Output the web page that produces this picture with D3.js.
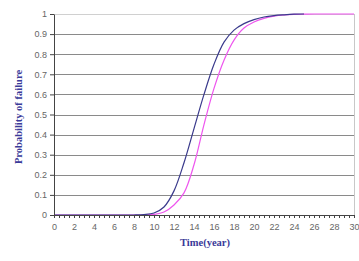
<!DOCTYPE html>
<html lang="en">
  <head>
    <meta charset="UTF-8" />
    <script src="https://d3js.org/d3.v7.min.js"></script>
    <style>
      body { margin: 0; background: #fff; }
      .tick text { font-family: "Liberation Sans", Arial, sans-serif; font-size: 9px; fill: #666; }
      .title { font-family: "Liberation Serif", "Times New Roman", serif; font-size: 10.5px; font-weight: bold; fill: #3a3a99; }
    </style>
  </head>
  <body>
    <svg id="chart" width="359" height="261"></svg>
    <script>
      // data
      const years = [0, 1, 2, 3, 4, 5, 6, 7, 8, 9, 10, 11, 12, 13, 14, 15, 16, 17, 18, 19, 20, 21, 22, 23, 24, 25, 26, 27, 28, 29, 30];
      const blueProb = [0, 0, 0, 0, 0, 0, 0, 0, 0, 0.002, 0.01, 0.04, 0.12, 0.26, 0.43, 0.6, 0.75, 0.86, 0.92, 0.952, 0.972, 0.985, 0.992, 0.996, 0.999, 1, null, null, null, null, null];
      const pinkProb = [0, 0, 0, 0, 0, 0, 0, 0, 0, 0, 0.003, 0.015, 0.05, 0.11, 0.25, 0.45, 0.63, 0.77, 0.87, 0.93, 0.96, 0.978, 0.989, 0.995, 0.998, 0.999, 1, 1, 1, 1, 1];
      const yTicks = [0, 0.1, 0.2, 0.3, 0.4, 0.5, 0.6, 0.7, 0.8, 0.9, 1];
      const xTicks = [0, 2, 4, 6, 8, 10, 12, 14, 16, 18, 20, 22, 24, 26, 28, 30];

      const svg = d3.select("#chart");
      const margin = { top: 14, right: 5, bottom: 46, left: 54 };
      const w = 359 - margin.left - margin.right;
      const h = 261 - margin.top - margin.bottom;
      const g = svg.append("g").attr("transform", `translate(${margin.left},${margin.top})`);

      const x = d3.scaleLinear().domain([0, 30]).range([0, w]);
      const y = d3.scaleLinear().domain([0, 1]).range([h, 0]);

      // gridlines
      g.selectAll("line.grid")
        .data(yTicks.slice(1))
        .join("line")
        .attr("class", "grid")
        .attr("x1", 0)
        .attr("x2", w)
        .attr("y1", (d) => Math.round(y(d)) + 0.5)
        .attr("y2", (d) => Math.round(y(d)) + 0.5)
        .attr("stroke", (d) => (d === 1 ? "#d0d0d0" : "#8a8a8a"))
        .attr("stroke-width", 1.2);

      // right border
      g.append("line")
        .attr("x1", w + 0.5).attr("x2", w + 0.5)
        .attr("y1", 0).attr("y2", h)
        .attr("stroke", "#c8c8c8");

      const line = d3.line()
        .defined((d) => d[1] !== null)
        .x((d) => x(d[0]))
        .y((d) => y(d[1]))
        .curve(d3.curveCatmullRom.alpha(0.5));

      g.append("path")
        .datum(years.map((t, i) => [t, pinkProb[i]]))
        .attr("fill", "none")
        .attr("stroke", "#ee55ee")
        .attr("stroke-width", 1.2)
        .attr("d", line);

      g.append("path")
        .datum(years.map((t, i) => [t, blueProb[i]]))
        .attr("fill", "none")
        .attr("stroke", "#3a3a8c")
        .attr("stroke-width", 1.2)
        .attr("d", line);

      // y axis
      const yAxis = g.append("g")
        .call(d3.axisLeft(y).tickValues(yTicks).tickFormat((d) => d).tickSize(4).tickSizeOuter(0));
      yAxis.select(".domain").attr("stroke", "#444");
      yAxis.selectAll(".tick line").attr("stroke", "#444");
      yAxis.selectAll(".tick text").attr("x", -7);

      // x axis with half-year minor ticks
      const xAxisG = g.append("g").attr("transform", `translate(0,${h})`);
      xAxisG.append("g")
        .call(d3.axisBottom(x).tickValues(d3.range(0, 30.01, 0.5)).tickFormat("").tickSize(3).tickSizeOuter(0))
        .call((a) => a.select(".domain").attr("stroke", "#444"))
        .call((a) => a.selectAll(".tick line").attr("stroke", "#444"));
      xAxisG.append("g")
        .call(d3.axisBottom(x).tickValues(xTicks).tickSize(0).tickPadding(9))
        .call((a) => a.select(".domain").remove());

      // titles
      svg.append("text")
        .attr("class", "title")
        .attr("text-anchor", "middle")
        .attr("transform", "translate(22,117) rotate(-90)")
        .text("Probability of failure");

      svg.append("text")
        .attr("class", "title")
        .attr("text-anchor", "middle")
        .attr("x", 205)
        .attr("y", 246)
        .text("Time(year)");
    </script>
  </body>
</html>
